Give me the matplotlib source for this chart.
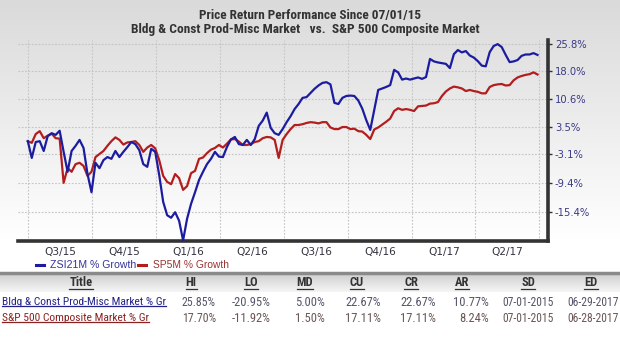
import numpy as np
import pandas as pd
import matplotlib
matplotlib.use("Agg")
import matplotlib.pyplot as plt
from matplotlib.lines import Line2D
from matplotlib import font_manager
from matplotlib.font_manager import FontProperties

# ---------------- data ----------------
start_date = "2015-07-01"
end_date = "2017-06-29"

zsi_growth = [0.0, -3.9, -0.2, 0.0, -2.3, 1.2, 1.9, 1.5, 2.5, -2.5,
              -7.0, -2.3, -1.1, 0.3, -1.6, -7.5, -11.4, -5.0, -6.2, -4.4,
              -3.7, -4.1, -2.3, -3.7, -2.5, -1.4, -0.2, -0.7, -2.1, -5.3,
              -5.9, -1.8, -2.5, -7.7, -13.4, -16.1, -16.6, -15.5, -17.2, -20.95,
              -16.8, -13.8, -11.4, -8.8, -7.0, -5.3, -4.1, -2.5, -3.6, -3.7,
              -1.4, 0.4, 1.0, -0.7, -0.9, 0.3, -0.9, 0.5, 3.7, 5.0,
              7.0, 3.2, 1.9, 1.5, 2.9, 4.6, 6.1, 7.9, 9.2, 10.8,
              11.0, 12.1, 13.2, 14.1, 14.8, 15.0, 14.4, 9.5, 9.2, 10.8,
              11.3, 11.4, 11.3, 10.1, 8.0, 5.1, 2.7, 7.7, 12.9, 13.3,
              13.7, 14.2, 18.4, 17.7, 15.7, 16.0, 15.7, 16.0, 16.3, 15.9,
              16.4, 21.5, 20.8, 20.5, 20.3, 20.1, 18.9, 22.9, 24.1, 23.4,
              23.8, 22.5, 21.9, 20.9, 19.6, 19.4, 23.5, 25.3, 25.85, 25.0,
              22.7, 20.6, 20.8, 21.2, 22.4, 22.8, 22.8, 23.2, 22.67]

sp5_growth = [0.0, -0.4, 1.7, 2.4, 0.7, 1.3, 1.8, 0.7, 0.6, -9.4,
              -6.2, -7.0, -5.3, -5.0, -5.7, -7.9, -7.0, -3.7, -3.0, -2.3,
              -1.1, 0.0, 0.9, 0.3, -0.8, -0.3, -0.2, 0.0, -0.9, -2.5,
              -1.5, -0.9, -1.7, -4.4, -7.9, -9.2, -9.7, -7.5, -8.4, -10.9,
              -10.1, -7.3, -6.8, -4.1, -3.8, -2.8, -2.0, -1.6, -0.9, -1.5,
              -0.6, 0.4, 0.5, -0.1, -0.9, -0.9, -0.7, -0.2, 0.0, 0.7,
              1.0, 0.9, 0.3, -3.9, 0.3, 1.7, 2.9, 3.9, 3.9, 4.1,
              4.4, 4.6, 4.5, 4.3, 4.6, 4.6, 3.3, 2.9, 2.9, 3.4,
              3.4, 2.9, 3.0, 2.4, 2.3, 1.5, 0.5, 2.8, 3.3, 4.0,
              4.7, 5.5, 7.4, 8.1, 7.7, 7.9, 7.7, 7.4, 8.6, 8.7,
              8.8, 9.3, 9.4, 9.7, 11.3, 12.5, 13.3, 13.8, 13.6, 13.3,
              12.6, 12.9, 12.6, 12.4, 12.0, 12.0, 13.7, 14.2, 14.4, 14.5,
              14.1, 14.2, 15.5, 16.3, 16.7, 17.0, 17.2, 17.7, 17.11]

quarter_starts = ["2015-07-01", "2015-10-01", "2016-01-01", "2016-04-01", "2016-07-01",
                  "2016-10-01", "2017-01-01", "2017-04-01", "2017-07-01"]
quarter_labels = ["Q3/15", "Q4/15", "Q1/16", "Q2/16", "Q3/16", "Q4/16", "Q1/17", "Q2/17"]
ytick_pct = [25.8, 18.0, 10.6, 3.5, -3.1, -9.4, -15.4]

title_line1 = "Price Return Performance Since 07/01/15"
title_line2 = "Bldg & Const Prod-Misc Market   vs.  S&P 500 Composite Market"
legend_labels = ["ZSI21M % Growth", "SP5M % Growth"]

table_cols = ["Title", "HI", "LO", "MD", "CU", "CR", "AR", "SD", "ED"]
table_row1 = ["Bldg & Const Prod-Misc Market % Gr", "25.85%", "-20.95%", "5.00%", "22.67%",
              "22.67%", "10.77%", "07-01-2015", "06-29-2017"]
table_row2 = ["S&P 500 Composite Market % Gr", "17.70%", "-11.92%", "1.50%", "17.11%",
              "17.11%", "8.24%", "07-01-2015", "06-28-2017"]

# ---------------- fonts ----------------
def pick_font(bold):
    best = None
    best_score = -1
    for f in font_manager.fontManager.ttflist:
        name = f.name
        st = str(f.stretch)
        if f.style != "normal":
            continue
        narrowish = ("Narrow" in name or "Condensed" in name or
                     st in ("condensed", "semi-condensed", "extra-condensed"))
        if not narrowish:
            continue
        w = f.weight if isinstance(f.weight, int) else (700 if "bold" in str(f.weight) else 400)
        score = 10
        if "Liberation Sans Narrow" in name or "Arial Narrow" in name:
            score += 20
        elif "Roboto" in name or "Noto Sans" in name:
            score += 10
        if st == "condensed" or "Condensed" in name or "Narrow" in name:
            score += 5
        if bold:
            score += 8 - abs(w - 700) / 100
        else:
            score += 8 - abs(w - 400) / 100
        if score > best_score:
            best_score = score
            best = f
    if best is None:
        return FontProperties(family="DejaVu Sans", weight="bold" if bold else "normal")
    return FontProperties(fname=best.fname)

FP_NARROW = pick_font(False)
FP_NARROW_B = pick_font(True)

def fp(base, size):
    p = base.copy()
    p.set_size(size)
    return p

# ---------------- styling ----------------
W, H = 620, 341
BLUE = "#1c1ca0"
RED = "#b21e1e"
VERD = "DejaVu Sans"

fig = plt.figure(figsize=(W / 100, H / 100), dpi=100)

def fx(px):
    return px / W

def fy(py):
    return 1 - py / H

# background gradient
bg = fig.add_axes([0, 0, 1, 1], zorder=-10)
bg.set_axis_off()
rows = np.arange(H)
vals = np.clip(rows / 240.0, 0, 1)
c_top = np.array([0.855, 0.855, 0.855])
c_bot = np.array([1.0, 1.0, 1.0])
grad = c_top[None, :] * (1 - vals[:, None]) + c_bot[None, :] * vals[:, None]
img = np.repeat(grad[:, None, :], W, axis=1)
bg.imshow(img, aspect="auto", extent=[0, W, H, 0])

# table header band
hb_top, hb_bot = 272, 292
band = np.linspace(0.80, 0.96, hb_bot - hb_top)
band_img = np.repeat(np.repeat(band[:, None, None], W, axis=1), 3, axis=2)
bg.imshow(band_img, aspect="auto", extent=[0, W, hb_bot, hb_top])
bg.add_line(Line2D([0, W], [hb_top + 1, hb_top + 1], color="#8a8a8a", lw=2.5))
bg.set_xlim(0, W)
bg.set_ylim(H, 0)

# main axes
ax = fig.add_axes([fx(18), fy(241), fx(548) - fx(18), fy(40) - fy(241)])
ax.patch.set_alpha(0)
dates = pd.date_range(start_date, end_date, periods=len(zsi_growth))
ax.plot(dates, np.log1p(np.array(zsi_growth) / 100), color=BLUE, lw=1.6, zorder=3)
ax.plot(dates, np.log1p(np.array(sp5_growth) / 100), color=RED, lw=1.6, zorder=2)

ax.set_xlim(pd.Timestamp("2015-06-17"), pd.Timestamp("2017-07-14"))
ax.set_ylim(-0.2366, 0.2397)

qs = pd.to_datetime(quarter_starts)
ax.set_xticks(qs)
ax.set_xticklabels([])
mids = [qs[i] + (qs[i + 1] - qs[i]) / 2 for i in range(len(qs) - 1)]
ax.set_xticks(mids, minor=True)
ax.set_xticklabels(quarter_labels, minor=True, fontsize=7.6, color="#333340", family=VERD)
ax.tick_params(axis="x", which="both", length=0, pad=4)

ax.yaxis.tick_right()
ax.set_yticks(np.log1p(np.array(ytick_pct) / 100))
ax.set_yticklabels([f"{v:.1f}%" for v in ytick_pct], fontsize=7.2, color="#3a3a86", family=VERD)
ax.tick_params(axis="y", which="major", length=3, width=1, color="#333333", pad=2, direction="out")

ax.grid(True, which="major", color="#c4c4c4", lw=0.8, ls=(0, (1.5, 1.5)))
for s in ["left", "top"]:
    ax.spines[s].set_visible(False)
for s in ["right", "bottom"]:
    ax.spines[s].set_color("#333333")
    ax.spines[s].set_linewidth(2.6)

# titles
t1 = fig.text(fx(310), fy(16), title_line1, ha="center", va="center",
              fontproperties=fp(FP_NARROW_B, 10.2), color="#333333")
t2 = fig.text(fx(305), fy(29), title_line2, ha="center", va="center",
              fontproperties=fp(FP_NARROW_B, 10.2), color="#333333")

# legend
leg_y = 265
bg.add_line(Line2D([36, 44], [leg_y, leg_y], color=BLUE, lw=2.2))
lg1 = fig.text(fx(50), fy(leg_y), legend_labels[0], ha="left", va="center", fontsize=7.6,
               family="Liberation Sans", color="#333399")
bg.add_line(Line2D([138, 146], [leg_y, leg_y], color=RED, lw=2.2))
lg2 = fig.text(fx(153), fy(leg_y), legend_labels[1], ha="left", va="center", fontsize=7.6,
               family="Liberation Sans", color="#993333")

# table
col_center = [81, 191, 251, 305, 357, 411, 462, 528, 591]
col_right = [None, 216, 271, 325, 381, 436, 489, 554, 619]
head_y, r1_y, r2_y = 283, 302, 318
fit = []  # (text, target width px)
underline = []
for i, c in enumerate(table_cols):
    t = fig.text(fx(col_center[i]), fy(head_y), c, ha="center", va="center",
                 fontproperties=fp(FP_NARROW_B, 9), color="#333333")
    underline.append((t, "#333333"))
row_targets = [164, 147]
for k, (row, ry, rc, vc) in enumerate([(table_row1, r1_y, "#22228a", "#55556a"),
                                       (table_row2, r2_y, "#8a2222", "#6a5555")]):
    t = fig.text(fx(2), fy(ry), row[0], ha="left", va="center",
                 fontproperties=fp(FP_NARROW, 9), color=rc)
    fit.append((t, row_targets[k]))
    underline.append((t, rc))
    for i in range(1, len(row)):
        tv = fig.text(fx(col_right[i]), fy(ry), row[i], ha="right", va="center",
                      fontproperties=fp(FP_NARROW, 9), color=vc)
        if i == 1:
            fit.append((tv, 34))
        elif i >= 7:
            fit.append((tv, 52))
fit.append((t1, 221))
fit.append((t2, 347))
fit.append((lg1, 86))
fit.append((lg2, 76))

fig.canvas.draw()
r = fig.canvas.get_renderer()
# scale font sizes so widths match the reference; apply the same factor to siblings
factors = {}
for t, target in fit:
    bb = t.get_window_extent(r)
    if bb.width > 0:
        f = target / bb.width
        t.set_fontsize(t.get_fontsize() * f)
        factors[id(t)] = f

# values in table share the factor derived from the HI column / date column
fig.canvas.draw()
for t, col in underline:
    bb = t.get_window_extent(r)
    x0, x1 = bb.x0, bb.x1
    yb = H - bb.y0 - 1
    bg.add_line(Line2D([x0, x1], [yb, yb], color=col, lw=0.9))

fig.savefig("out.png", dpi=100)
